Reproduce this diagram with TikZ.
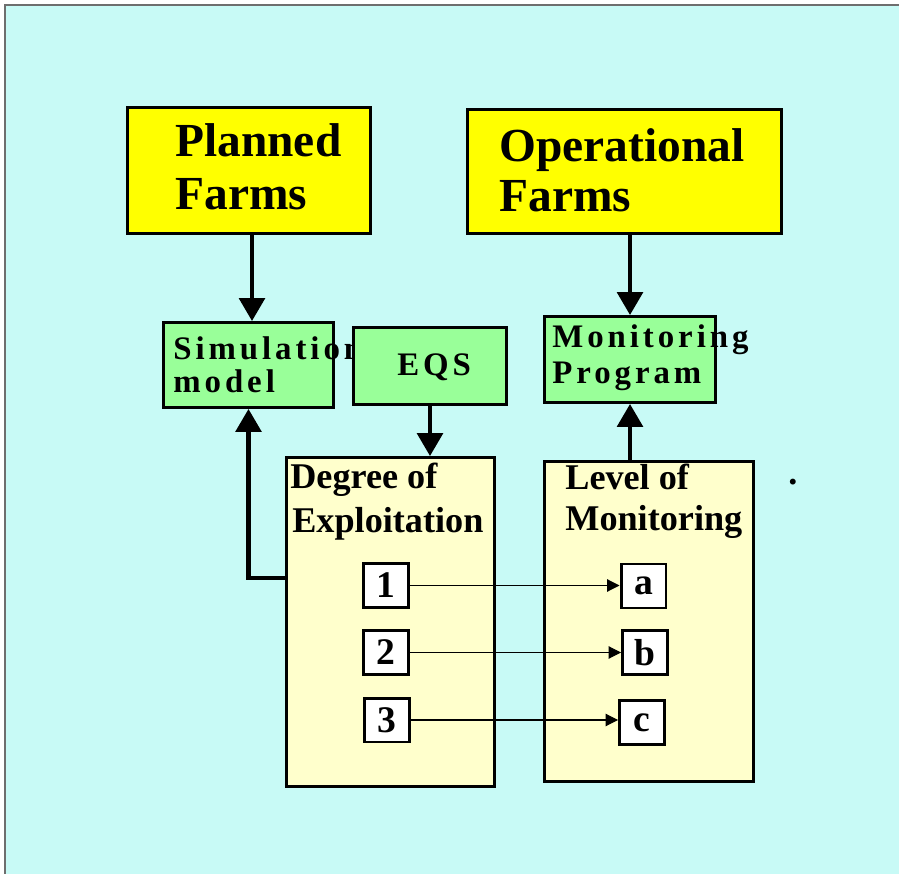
\documentclass[tikz,border=0pt]{standalone}
\usepackage{fontspec}
\setmainfont{Liberation Serif}
\newfontfamily\spacedfont[LetterSpace=12]{Liberation Serif}
\usetikzlibrary{arrows.meta,positioning}
\definecolor{bgcyan}{RGB}{200,250,246}
\definecolor{farmyellow}{RGB}{255,255,0}
\definecolor{modelgreen}{RGB}{153,255,153}
\definecolor{paleyellow}{RGB}{255,255,204}
\definecolor{framegray}{RGB}{110,110,110}

\begin{document}
\begin{tikzpicture}
	[x=0.02cm,y=-0.02cm,
	box/.style={draw,line width=1.7pt,inner sep=0pt},
	farm/.style={box,fill=farmyellow},
	model/.style={box,fill=modelgreen},
	listbox/.style={box,fill=paleyellow},
	num/.style={box,fill=white,minimum width=0.9cm,minimum height=0.88cm,font=\fontsize{21.4}{24}\selectfont\bfseries},
	farmtext/.style={anchor=base west,inner sep=0pt,font=\fontsize{27}{30}\selectfont\bfseries},
	boxtext/.style={anchor=base west,inner sep=0pt,font=\fontsize{20.6}{24}\selectfont\bfseries},
	spacedtext/.style={anchor=base west,inner sep=0pt,font=\fontsize{18.7}{22}\spacedfont\bfseries},
	bigarrow/.style={line width=2.3pt,-{Triangle[length=13pt,width=14.5pt]}},
	link/.style={line width=0.6pt,-{Triangle[length=7pt,width=7pt]}}]
	
	% background
	\useasboundingbox (0,0) rectangle (899,874);
	\fill[bgcyan] (5,5) rectangle (899,874);
	\draw[framegray,line width=0.8pt] (5,874) -- (5,5) -- (899,5);
	
	\node[farm,minimum width=4.86cm,minimum height=2.52cm] (planned) at (249,170.5) {};
	\node[farmtext] (planned-1) at (175,157) {Planned};
	\node[farmtext] (planned-2) at (175,210) {Farms};
	
	\node[farm,minimum width=6.28cm,minimum height=2.48cm] (operational) at (624.5,171.5) {};
	\node[farmtext] (operational-1) at (499,162) {Operational};
	\node[farmtext] (operational-2) at (499,212) {Farms};
	
	\node[model,minimum width=3.40cm,minimum height=1.70cm] (sim) at (248.5,365) {};
	\node[spacedtext] (sim-1) at (173,360) {Simulation};
	\node[spacedtext] (sim-2) at (173,393) {model};
	
	\node[model,minimum width=3.06cm,minimum height=1.54cm] (eqs) at (430,366) {};
	\node[spacedtext] (eqs-1) at (397,376) {EQS};
	
	\node[model,minimum width=3.42cm,minimum height=1.72cm] (monprog) at (630,359.5) {};
	\node[spacedtext] (monprog-1) at (552,348) {Monitoring};
	\node[spacedtext] (monprog-2) at (552,384) {Program};
	
	\node[listbox,minimum width=4.16cm,minimum height=6.58cm] (degree) at (390.5,622) {};
	\node[boxtext] (degree-1) at (290,489) {Degree of};
	\node[boxtext] (degree-2) at (292,532) {Exploitation};
	
	\node[listbox,minimum width=4.18cm,minimum height=6.40cm] (level) at (649,621.5) {};
	\node[boxtext] (level-1) at (565,490) {Level of};
	\node[boxtext] (level-2) at (565,530) {Monitoring};
	
	\node[num] (1) at (386,585.5) {1};
	\node[num] (2) at (386,652.5) {2};
	\node[num] (3) at (387,720) {3};
	\node[num] (a) at (643.5,586) {a};
	\node[num] (b) at (645,652.5) {b};
	\node[num] (c) at (642,722.5) {c};
	
	\node[inner sep=0pt,font=\fontsize{20.6}{24}\selectfont\bfseries] (dot) at (793,482) {.};
	
	\draw[bigarrow] ([xshift=0.06cm]planned.south) -- ([xshift=0.06cm]planned.south |- sim.north);
	\draw[bigarrow] (monprog.north |- operational.south) -- (monprog.north);
	\draw[bigarrow] (eqs.south) -- (eqs.south |- degree.north);
	\draw[bigarrow] (monprog.south |- level.north) -- (monprog.south);
	\draw[bigarrow] (degree.west |- 0,578) -| (sim.south);
	
	\draw[link] (1.east) -- (1.east -| a.west);
	\draw[link] (2.east) -- (2.east -| b.west);
	\draw[link] (3.east) -- (3.east -| c.west);
\end{tikzpicture}
\end{document}
